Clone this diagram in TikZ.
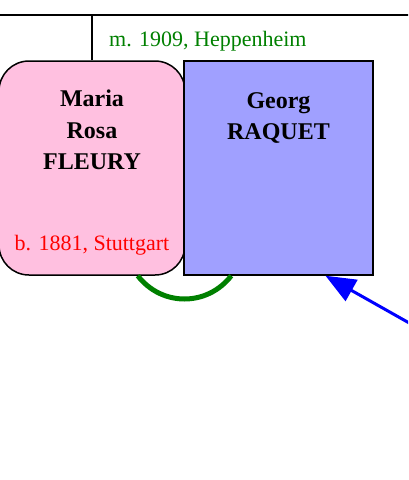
\documentclass[tikz,border=0pt]{standalone}
\usepackage{fontspec}
\setmainfont{Liberation Serif}
\usetikzlibrary{positioning, arrows.meta}
\definecolor{femalefill}{HTML}{FFC0E0}
\definecolor{malefill}{HTML}{A0A0FF}
\definecolor{marriagegreen}{HTML}{008000}
\tikzstyle{female} = [draw, line width=1.5pt, fill=femalefill, rounded corners=30pt, minimum width=186pt, minimum height=214pt, inner sep=0pt]
\tikzstyle{male} = [draw, line width=1.5pt, fill=malefill, minimum width=189pt, minimum height=214pt, inner sep=0pt]
\tikzstyle{personname} = [inner sep=0pt, align=center, font=\fontsize{24}{31.5}\selectfont\bfseries]
\tikzstyle{eventtext} = [inner sep=0pt, font=\fontsize{22}{26}\selectfont]
\tikzstyle{marriage} = [line width=5pt, draw=marriagegreen]
\tikzstyle{childarrow} = [-{Triangle[length=30pt, width=24pt]}, line width=3pt, draw=blue]

\begin{document}
\begin{tikzpicture}[x=1pt, y=-1pt]
				\clip (0,0) rectangle (408,480);
				\node (fleury)[female] at (92,168) {};
				\node (raquet)[male, right=-2.5pt of fleury] {};
				\node (fleury name)[personname, below=29.5pt of fleury.north] {Maria\\Rosa\\FLEURY};
				\node (raquet name)[personname, below=32pt of raquet.north] {Georg\\RAQUET};
				\node (fleury birth)[eventtext, text=red, anchor=base] at ([yshift=25pt]fleury.south) {b. 1881, Stuttgart};
				\node (marriage)[eventtext, text=marriagegreen, anchor=base west] at ([xshift=17pt, yshift=14pt]fleury.north) {m. 1909, Heppenheim};
				
				\coordinate (line left) at (-5,15);
				\coordinate (line right) at (415,15);
				\coordinate (child) at (450,346);
				
				\draw [line width=1.5pt] (line left) -- (line right);
				\draw [line width=1.2pt] (fleury.north) -- (fleury.north |- line left);
				\draw [marriage] ([xshift=-48pt]fleury.south east) .. controls +(24,31) and +(-24,31) .. ([xshift=48pt]raquet.south west);
				\draw [childarrow] (child) -- ([xshift=47pt]raquet.south);
			\end{tikzpicture}
\end{document}
